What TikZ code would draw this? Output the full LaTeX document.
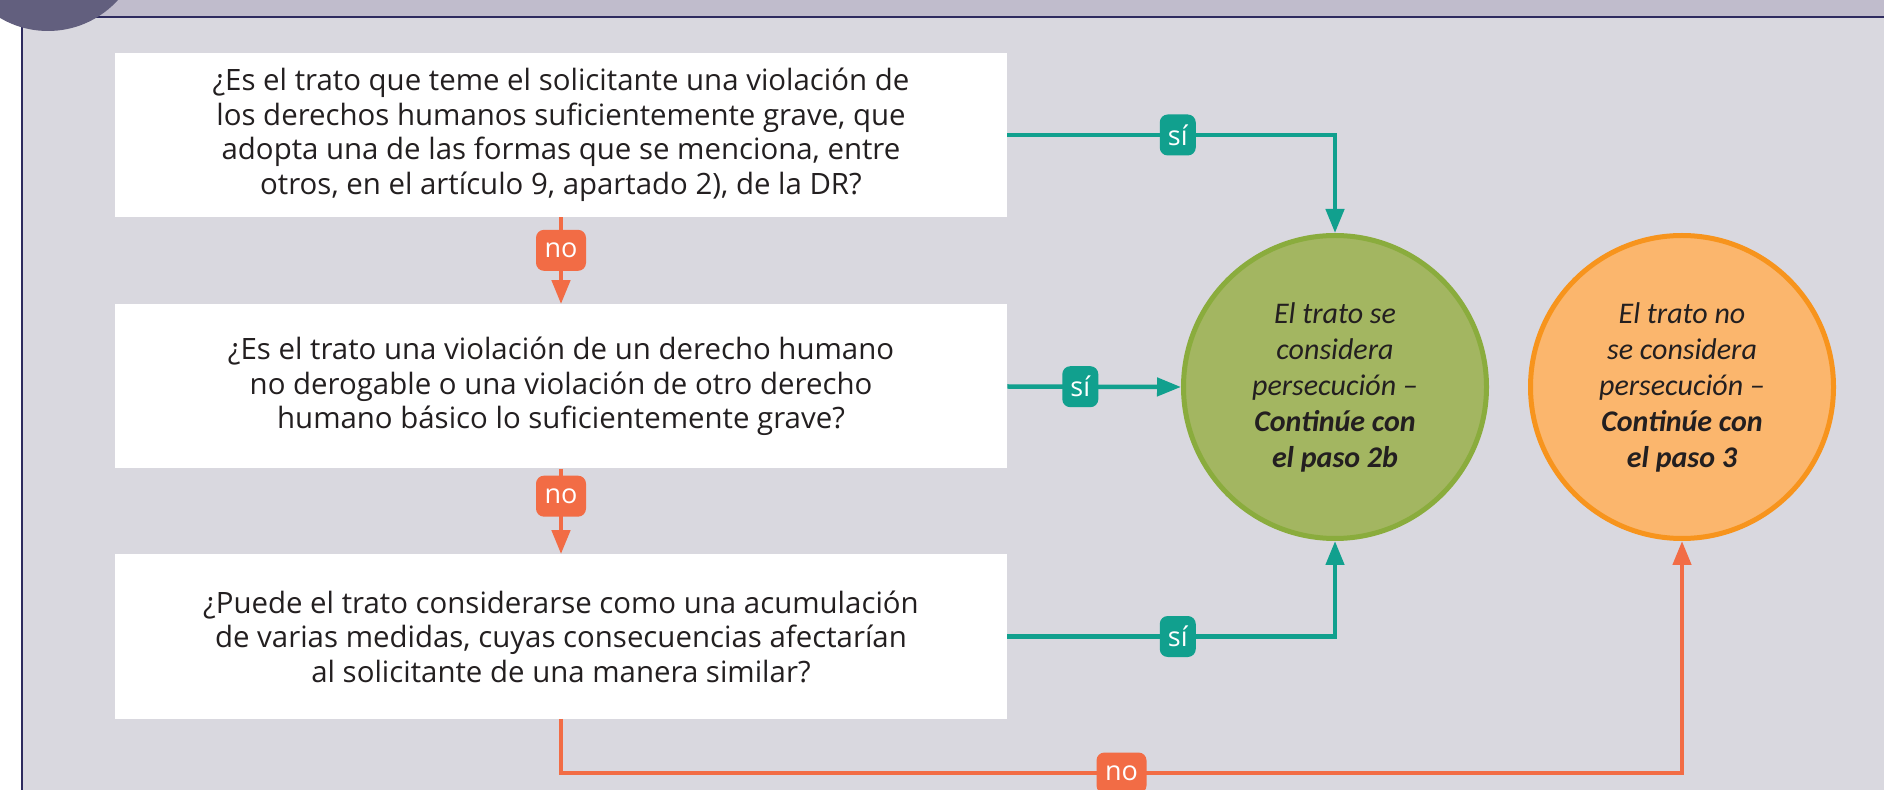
\documentclass[tikz,border=0pt]{standalone}
\usepackage{fontspec}
\setmainfont{Carlito}
\newfontfamily\boxfont{Open Sans}
\usetikzlibrary{arrows.meta}
\definecolor{panel}{HTML}{D9D8DF}
\definecolor{band}{HTML}{C0BCCC}
\definecolor{frame}{HTML}{2E2B5F}
\definecolor{disk}{HTML}{625F7E}
\definecolor{ink}{HTML}{231F20}
\definecolor{sicolor}{HTML}{11A08E}
\definecolor{nocolor}{HTML}{F26C45}
\definecolor{greenfill}{HTML}{A3B661}
\definecolor{greenline}{HTML}{8AAC3D}
\definecolor{orangefill}{HTML}{FBB66D}
\definecolor{orangeline}{HTML}{F7941D}
\begin{document}
\begin{tikzpicture}[x=0.5pt,y=-0.5pt,
    question/.style={fill=white, minimum width=446pt, minimum height=82pt, inner sep=0pt, align=center, text=ink, font=\boxfont\fontsize{14.7}{17.25}\selectfont},
    outcome/.style={circle, line width=2.5pt, minimum size=151.5pt, inner sep=0pt, align=center, text=ink, font=\itshape\fontsize{15}{18}\selectfont},
    tag/.style={rounded corners=4pt, text=white, inner sep=0pt, minimum height=20.5pt, font=\boxfont\fontsize{13.5}{13.5}\selectfont},
    sitag/.style={tag, fill=sicolor, minimum width=18pt},
    notag/.style={tag, fill=nocolor, minimum width=25pt},
    siline/.style={draw=sicolor, line width=2.25pt, -{Triangle[length=12pt,width=9pt]}},
    noline/.style={draw=nocolor, line width=2.25pt, -{Triangle[length=12pt,width=9pt]}}]
    \useasboundingbox (0,0) rectangle (1884,790);
    \fill [panel] (0,0) rectangle (1884,790);
    \fill [white] (0,17) rectangle (22,790);
    \fill [band] (0,0) rectangle (1884,17);
    \draw [frame, line width=0.6pt] (1884,17)--(22,17)--(22,790);
    \fill [disk] (48,-63.5) circle (47.25pt);
    \node [question] (q1) at (561,135) {¿Es el trato que teme el solicitante una violación de\\los derechos humanos suficientemente grave, que\\adopta una de las formas que se menciona, entre\\otros, en el artículo 9, apartado 2), de la DR?};
    \node [question] (q2) at (561,386.5) {¿Es el trato una violación de un derecho humano\\no derogable o una violación de otro derecho\\humano básico lo suficientemente grave?};
    \node [question] (q3) at (561,636.5) {¿Puede el trato considerarse como una acumulación\\de varias medidas, cuyas consecuencias afectarían\\al solicitante de una manera similar?};
    \node [outcome, fill=greenfill, draw=greenline] (yes) at (1335,387) {El trato se\\considera\\persecución –\\\textbf{Continúe con}\\\textbf{el paso 2b}};
    \node [outcome, fill=orangefill, draw=orangeline] (notp) at (1682,387) {El trato no\\se considera\\persecución –\\\textbf{Continúe con}\\\textbf{el paso 3}};
    \coordinate (low) at (0,773);
    \draw [siline] (q1.east) -| node[sitag, pos=0.26] (s1) {sí} (yes.north);
    \draw [siline] (q2.east) -- node[sitag, pos=0.42] (s2) {sí} (yes.west);
    \draw [siline] (q3.east) -| node[sitag, pos=0.26] (s3) {sí} (yes.south);
    \draw [noline] (q1.south) -- node[notag, pos=0.38] (n1) {no} (q2.north);
    \draw [noline] (q2.south) -- node[notag, pos=0.32] (n2) {no} (q3.north);
    \draw [noline] (q3.south) -- (q3.south |- low) -| node[notag, pos=0.25] (n3) {no} (notp.south);
\end{tikzpicture}
\end{document}
